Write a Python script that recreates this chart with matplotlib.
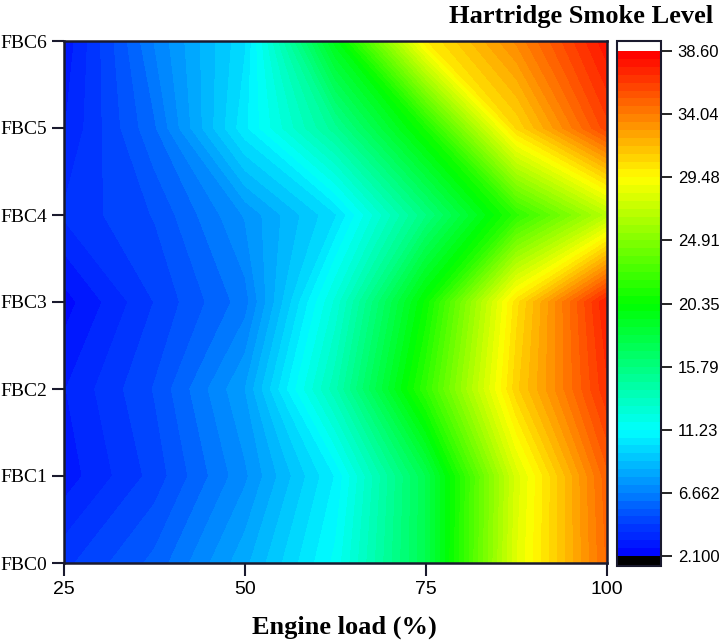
import matplotlib

matplotlib.use("Agg")
import matplotlib.pyplot as plt
import numpy as np
from matplotlib.colors import LinearSegmentedColormap

# engine load (%) columns and blend rows
loads = [25, 37.5, 50, 62.5, 75, 87.5, 100]
blends = ["FBC0", "FBC1", "FBC2", "FBC3", "FBC4", "FBC5", "FBC6"]
fbc0 = [4.2, 5.7, 8.2, 11.4, 17.5, 28.3, 34.7]
fbc1 = [2.9, 4.6, 7.1, 10.7, 17.5, 28.0, 35.0]
fbc2 = [3.2, 5.0, 7.8, 13.9, 22.0, 31.0, 36.8]
fbc3 = [2.4, 4.4, 6.4, 12.5, 20.5, 30.4, 37.5]
fbc4 = [3.9, 5.0, 7.3, 10.0, 15.7, 21.8, 26.8]
fbc5 = [3.2, 6.0, 10.5, 15.0, 21.0, 30.7, 36.1]
fbc6 = [2.8, 6.7, 10.0, 19.5, 30.0, 33.6, 37.9]

cbar_ticks = [2.100, 6.662, 11.23, 15.79, 20.35, 24.91, 29.48, 34.04, 38.60]
cbar_labels = ["2.100", "6.662", "11.23", "15.79", "20.35", "24.91",
               "29.48", "34.04", "38.60"]

SERIF = "Liberation Serif"
SANS = "Liberation Sans"
plt.rcParams["font.family"] = SANS

z = np.array([fbc0, fbc1, fbc2, fbc3, fbc4, fbc5, fbc6])
x = np.array(loads)
y = np.arange(len(blends))

cmap = LinearSegmentedColormap.from_list(
    "origin_rainbow", ["#0000ff", "#00ffff", "#00ff00", "#ffff00", "#ff0000"])
cmap.set_under("black")
cmap.set_over("white")
levels = np.linspace(cbar_ticks[0], cbar_ticks[-1], 65)

fig = plt.figure(figsize=(7.2, 6.44), dpi=100)
ax = fig.add_axes([64 / 720, 1 - 563 / 644, 543 / 720, 522 / 644])
cax = fig.add_axes([617 / 720, 1 - 566 / 644, 44 / 720, 525 / 644])

cs = ax.contourf(x, y, z, levels=levels, cmap=cmap, extend="both")

ax.set_xlim(25, 100)
ax.set_ylim(0, 6)
ax.set_xticks([25, 50, 75, 100])
ax.set_xticklabels(["25", "50", "75", "100"], fontfamily=SANS, fontsize=14)
ax.set_yticks(y)
ax.set_yticklabels(blends, fontfamily=SERIF, fontsize=14)
ax.tick_params(direction="out", length=9, width=1.5, color="#1a1a2e")
ax.tick_params(axis="x", pad=4)
ax.tick_params(axis="y", pad=3)
for s in ax.spines.values():
    s.set_linewidth(1.8)
    s.set_color("#1a1a2e")
ax.set_xlabel("Engine load (%)", fontfamily=SERIF, fontsize=19,
              fontweight="bold")
ax.xaxis.set_label_coords(0.517, -0.101)

cb = fig.colorbar(cs, cax=cax, extend="both", extendrect=True,
                  extendfrac=0.02, drawedges=False)
cb.set_ticks(cbar_ticks)
cb.set_ticklabels(cbar_labels)
cb.outline.set_linewidth(1.5)
cb.outline.set_edgecolor("#1a1a2e")
cax.tick_params(direction="out", length=8, width=1.2, labelsize=12, pad=4)
for t in cax.get_yticklabels():
    t.set_fontfamily(SANS)

fig.text(449 / 720, 1 - 16 / 644, "Hartridge Smoke Level", ha="left",
         va="center", fontfamily=SERIF, fontsize=19, fontweight="bold")

fig.savefig("out.png", dpi=100)
